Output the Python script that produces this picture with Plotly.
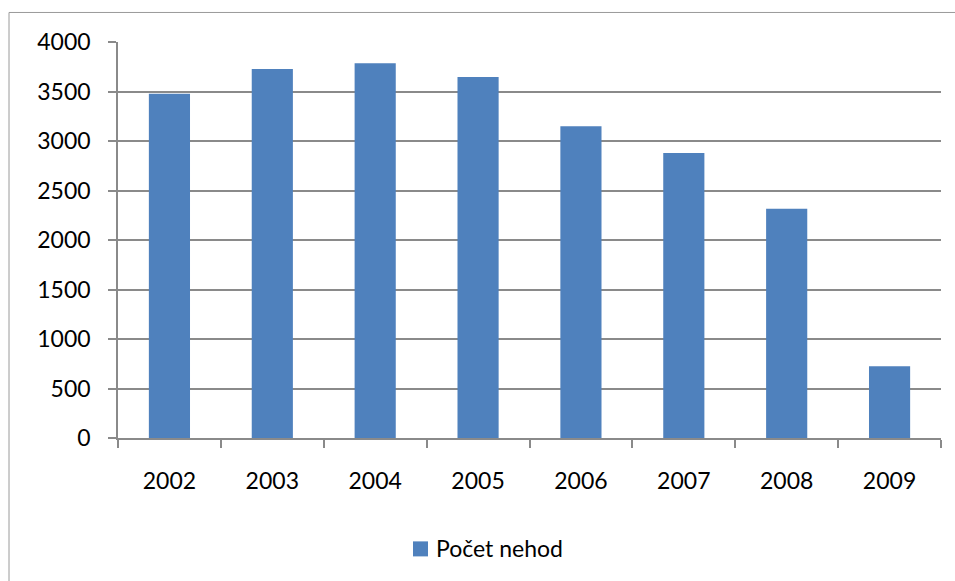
import plotly.graph_objects as go

years = ["2002", "2003", "2004", "2005", "2006", "2007", "2008", "2009"]
accidents = [3478, 3728, 3786, 3647, 3149, 2879, 2316, 725]
series_name = "Počet nehod"
y_ticks = [0, 500, 1000, 1500, 2000, 2500, 3000, 3500, 4000]

L, R, T, B = 118, 941, 42, 437.7
W, H = 955, 581
pw, ph = R - L, B - T

def px_x(p):
    return (p - L) / pw

def px_y(p):
    return (B - p) / ph

bar_col = "#4F81BD"
fig = go.Figure()
fig.add_trace(go.Bar(
    x=years, y=accidents, name=series_name,
    marker=dict(color=bar_col, line=dict(width=0)),
    showlegend=False,
))

grid_col = "#8A8A8A"
font_fam = "Lato, Carlito, 'Open Sans', sans-serif"
fig.update_layout(
    width=W, height=H,
    margin=dict(l=L, r=W - R, t=T, b=H - B, autoexpand=False),
    paper_bgcolor="white", plot_bgcolor="white",
    font=dict(family=font_fam, size=23, color="black"),
    bargap=0.6,
    showlegend=False,
    xaxis=dict(type="category", showgrid=False, showline=True, linecolor=grid_col, linewidth=1.5,
               ticks="outside", tickson="boundaries", ticklen=8, tickcolor=grid_col, tickwidth=1.5,
               ticklabelstandoff=22),
    yaxis=dict(range=[0, 4000], tickvals=y_ticks, showgrid=True, gridcolor=grid_col, gridwidth=1.5,
               showline=True, linecolor=grid_col, linewidth=1.5, zeroline=False,
               ticks="outside", ticklen=8, tickcolor=grid_col, tickwidth=1.5,
               ticklabelstandoff=13),
)

# chart frame
fig.add_shape(type="rect", xref="paper", yref="paper",
              x0=px_x(9), x1=px_x(965), y0=px_y(600), y1=px_y(12.5),
              line=dict(color="#9A9A9A", width=1), layer="below")

# legend (key square + label)
fig.add_shape(type="rect", xref="paper", yref="paper",
              x0=px_x(413), x1=px_x(428), y0=px_y(556), y1=px_y(541),
              fillcolor=bar_col, line=dict(width=0))
fig.add_annotation(text=series_name, xref="paper", yref="paper",
                   x=px_x(434), y=px_y(548), xanchor="left", yanchor="middle",
                   showarrow=False, font=dict(family=font_fam, size=23, color="black"))

fig.write_html("out.html")
